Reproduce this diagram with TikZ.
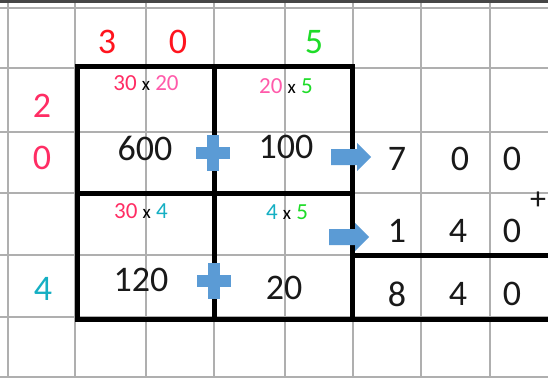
\documentclass[tikz,border=0pt]{standalone}
\usepackage{fontspec}
\setmainfont{Carlito}
\definecolor{gridgray}{RGB}{175,175,175}
\definecolor{topdark}{RGB}{70,70,70}
\definecolor{redd}{RGB}{255,20,30}
\definecolor{pinkred}{RGB}{255,45,100}
\definecolor{pinkk}{RGB}{255,90,170}
\definecolor{greenn}{RGB}{30,220,40}
\definecolor{teall}{RGB}{20,175,195}
\definecolor{blueshape}{RGB}{91,155,213}
\tikzset{
  big/.style={font=\fontsize{36}{36}\selectfont, inner sep=0pt, text=black!90},
  small/.style={font=\fontsize{23}{23}\selectfont, inner sep=0pt},
  gridline/.style={draw=gridgray, line width=2.6pt},
  frame/.style={draw=black, line width=5pt, line cap=rect},
}
\newcommand{\tms}{\textcolor{black}{\fontsize{19}{19}\selectfont x}}
\begin{document}
\begin{tikzpicture}[x=1pt,y=-1pt]
\useasboundingbox (0,0) rectangle (548,378);
\clip (0,0) rectangle (548,378);
\fill[white] (0,0) rectangle (548,378);
% grid
\foreach \gx in {8,75,146,214,285,353,421,490} \draw[gridline] (\gx,0) -- (\gx,378);
\foreach \gy in {8,68,132,193,255,317,377} \draw[gridline] (0,\gy) -- (548,\gy);
\draw[draw=topdark, line width=3pt] (0,1.5) -- (548,1.5);
% frames
\coordinate (tl) at (77,66);
\coordinate (tm) at (214,66);
\coordinate (tr) at (352,66);
\coordinate (ml) at (77,193);
\coordinate (mr) at (352,193);
\coordinate (bl) at (77,319);
\coordinate (bm) at (214,319);
\coordinate (br) at (352,319);
\coordinate (rr) at (552,319);
\coordinate (sr) at (352,255);
\coordinate (sre) at (552,255);
\draw[frame] (bl) -- (tl) -- (tr) -- (br);
\draw[frame] (ml) -- (mr);
\draw[frame] (tm) -- (bm);
\draw[frame] (bl) -- (rr);
\draw[frame] (sr) -- (sre);
% headers
\node[big, text=redd] (h3) at (107,42) {3};
\node[big, text=redd] (h0) at (178,42) {0};
\node[big, text=greenn] (h5) at (314,42) {5};
\node[big, text=pinkred] (v2) at (42,106) {2};
\node[big, text=pinkred] (v0) at (42,158) {0};
\node[big, text=teall] (v4) at (43,289) {4};
% small labels
\node[small] (l1) at (146,83) {\textcolor{pinkred}{30} \tms{} \textcolor{pinkk}{20}};
\node[small] (l2) at (286,86) {\textcolor{pinkk}{20} \tms{} \textcolor{greenn}{5}};
\node[small] (l3) at (141,211) {\textcolor{pinkred}{30} \tms{} \textcolor{teall}{4}};
\node[small] (l4) at (287,212) {\textcolor{teall}{4} \tms{} \textcolor{greenn}{5}};
% products
\node[big] (p600) at (145,148) {600};
\node[big] (p100) at (286,147) {100};
\node[big] (p120) at (141,280) {120};
\node[big] (p20) at (284,288) {20};
% sums
\node[big] (a7) at (397,159) {7};
\node[big] (a0) at (460,159) {0};
\node[big] (a00) at (512,159) {0};
\node[big] (b1) at (397,231) {1};
\node[big] (b4) at (458,231) {4};
\node[big] (b0) at (512,231) {0};
\node[big] (c8) at (397,294) {8};
\node[big] (c4) at (458,294) {4};
\node[big] (c0) at (512,294) {0};
\node[big, font=\fontsize{32}{32}\selectfont] (plus) at (538,201) {+};
% blue plus signs
\coordinate (pl1) at (213,153);
\coordinate (pl2) at (214,281);
\foreach \c in {pl1,pl2}{
  \fill[blueshape] (\c) ++(-17,-6) rectangle ++(34,12);
  \fill[blueshape] (\c) ++(-6,-18) rectangle ++(12,36);
}
% blue block arrows
\coordinate (arr1) at (331,157);
\coordinate (arr2) at (329,237);
\foreach \c in {arr1,arr2}{
  \fill[blueshape] (\c) ++(0,-8) -- ++(26,0) -- ++(0,-6) -- ++(14,14)
     -- ++(-14,14) -- ++(0,-6) -- ++(-26,0) -- cycle;
}
\end{tikzpicture}
\end{document}
